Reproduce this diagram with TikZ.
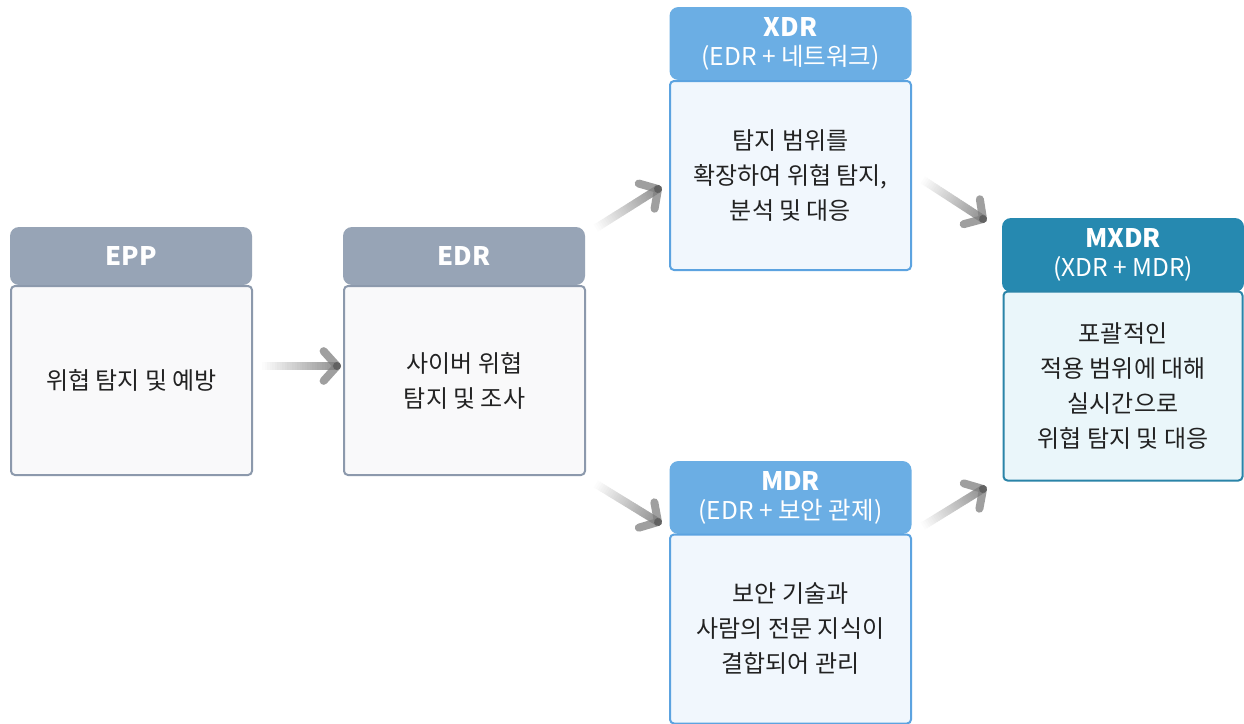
\documentclass[tikz,border=0pt]{standalone}
\usepackage{fontspec}
\setmainfont{Noto Sans CJK KR}
\usetikzlibrary{calc}

\definecolor{grayhead}{HTML}{97A4B6}
\definecolor{grayline}{HTML}{8C99AC}
\definecolor{grayfill}{HTML}{F9F9FA}
\definecolor{bluehead}{HTML}{6BAEE4}
\definecolor{blueline}{HTML}{5CA3E0}
\definecolor{bluefill}{HTML}{F1F7FD}
\definecolor{tealhead}{HTML}{2689B0}
\definecolor{tealline}{HTML}{2A84A8}
\definecolor{tealfill}{HTML}{EAF6FA}
\definecolor{inktext}{HTML}{222222}

\tikzset{
  head/.style={rounded corners=9pt, minimum width=242, text=white, align=center,
    inner sep=0pt, font=\fontsize{24.5}{29}\selectfont},
  body/.style={draw, line width=2pt, rounded corners=4pt, minimum width=241,
    minimum height=189, text=inktext, align=center, inner sep=0pt,
    font=\fontsize{24}{35}\selectfont},
  chevarm/.style={line width=8pt, line cap=round, black!50, opacity=0.75},
}

% gradient shaft with a chevron head, from #1 to #2
\newcommand\fadearrow[2]{%
  \path let \p1=($(#2)-(#1)$) in \pgfextra{%
    \pgfmathsetmacro\tmpang{atan2(\y1,\x1)}\global\let\arrang\tmpang
    \pgfmathsetmacro\tmplen{veclen(\x1,\y1)}\global\let\arrlen\tmplen};
  \begin{scope}[shift={(#1)}, rotate=\arrang, x=1pt, y=1pt]
    \foreach \i in {0,...,29}{
      \pgfmathsetmacro\shadec{1+42*\i/29}
      \draw[line width=8pt, black!\shadec] ({\arrlen*\i/30},0) -- ({\arrlen*(\i+1)/30+0.4},0);
    }
    \draw[chevarm] (\arrlen,0) -- ++(132:20);
    \draw[chevarm] (\arrlen,0) -- ++(228:20);
    \fill[black!70, opacity=0.6] (\arrlen,0) circle (4pt);
  \end{scope}}

\begin{document}
\begin{tikzpicture}[x=1pt, y=-1pt]
  \useasboundingbox[fill=white] (0,0) rectangle (1244,723);

  % EPP
  \node[head, fill=grayhead, minimum height=58] (epph) at (131,256)
    {\textbf{\fontsize{25.5}{29}\selectfont EPP}};
  \node[body, draw=grayline, fill=grayfill] (eppb) at (131.5,380.5)
    {위협 탐지 및 예방};

  % EDR
  \node[head, fill=grayhead, minimum height=58] (edrh) at (464,256)
    {\textbf{\fontsize{25.5}{29}\selectfont EDR}};
  \node[body, draw=grayline, fill=grayfill] (edrb) at (464.5,380.5)
    {사이버 위협\\탐지 및 조사};

  % XDR
  \node[head, fill=bluehead, minimum height=73] (xdrh) at (790.5,43.5)
    {\textbf{\fontsize{25.5}{29}\selectfont XDR}\\(EDR + 네트워크)};
  \node[body, draw=blueline, fill=bluefill] (xdrb) at (790.5,175.5)
    {탐지 범위를\\확장하여 위협 탐지,\\분석 및 대응};

  % MDR
  \node[head, fill=bluehead, minimum height=73] (mdrh) at (790.5,497.5)
    {\textbf{\fontsize{25.5}{29}\selectfont MDR}\\(EDR + 보안 관제)};
  \node[body, draw=blueline, fill=bluefill] (mdrb) at (790.5,629)
    {보안 기술과\\사람의 전문 지식이\\결합되어 관리};

  % MXDR
  \node[head, fill=tealhead, minimum height=74] (mxdrh) at (1123,255)
    {\textbf{\fontsize{25.5}{29}\selectfont MXDR}\\(XDR + MDR)};
  \node[body, draw=tealline, fill=tealfill, minimum width=239, minimum height=189] (mxdrb) at (1123,386)
    {포괄적인\\적용 범위에 대해\\실시간으로\\위협 탐지 및 대응};

  % arrow end points
  \coordinate (a1s) at (262,366);  \coordinate (a1e) at (337,366);
  \coordinate (a2s) at (596,228);  \coordinate (a2e) at (658,189);
  \coordinate (a3s) at (596,484);  \coordinate (a3e) at (658,522);
  \coordinate (a4s) at (923,180);  \coordinate (a4e) at (983,219);
  \coordinate (a5s) at (923,526);  \coordinate (a5e) at (983,489);

  \fadearrow{a1s}{a1e}
  \fadearrow{a2s}{a2e}
  \fadearrow{a3s}{a3e}
  \fadearrow{a4s}{a4e}
  \fadearrow{a5s}{a5e}
\end{tikzpicture}
\end{document}
